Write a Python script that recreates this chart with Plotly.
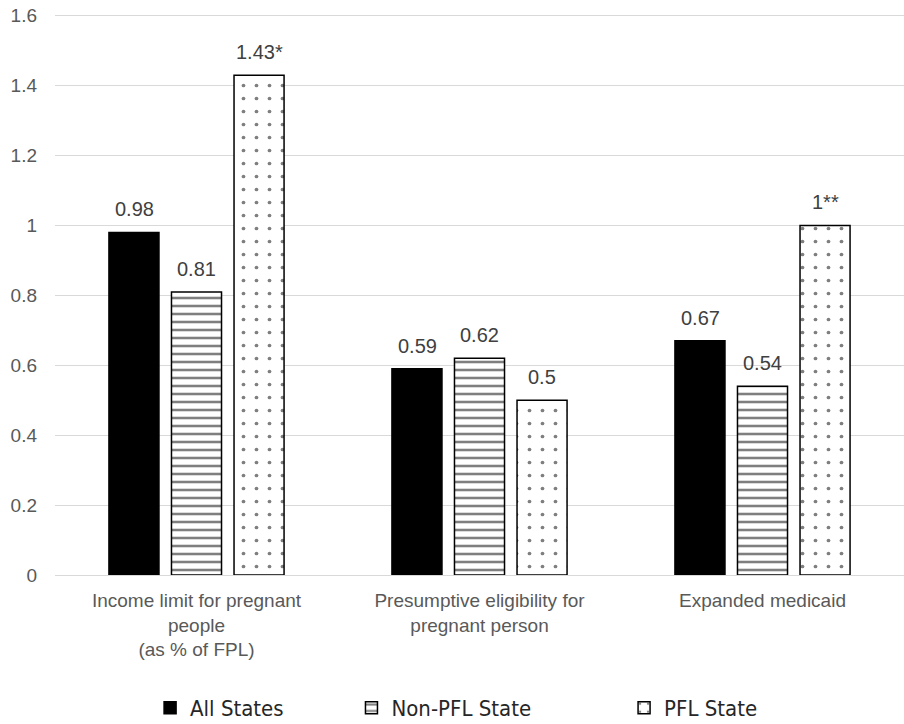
import plotly.graph_objects as go

categories = ["Income limit for pregnant<br>people<br>(as % of FPL)",
              "Presumptive eligibility for<br>pregnant person",
              "Expanded medicaid"]
all_states = [0.98, 0.59, 0.67]
non_pfl = [0.81, 0.62, 0.54]
pfl = [1.43, 0.50, 1.00]
all_labels = ["0.98", "0.59", "0.67"]
non_pfl_labels = ["0.81", "0.62", "0.54"]
pfl_labels = ["1.43*", "0.5", "1**"]
y_ticks = [0, 0.2, 0.4, 0.6, 0.8, 1, 1.2, 1.4, 1.6]
y_ticktext = ["0", "0.2", "0.4", "0.6", "0.8", "1", "1.2", "1.4", "1.6"]

NB = "\u00a0"
fig = go.Figure()
fig.add_trace(go.Bar(
    name="All States" + NB * 10, x=categories, y=all_states,
    marker=dict(color="black", line=dict(color="black", width=1.5)),
))
fig.add_trace(go.Bar(
    name="Non-PFL State" + NB * 14, x=categories, y=non_pfl,
    marker=dict(color="white", line=dict(color="black", width=1.5),
                pattern=dict(shape="-", fgcolor="black", bgcolor="white",
                             size=8, solidity=0.32, fillmode="overlay")),
))
fig.add_trace(go.Bar(
    name="PFL State", x=categories, y=pfl,
    marker=dict(color="white", line=dict(color="black", width=1.5),
                pattern=dict(shape=".", fgcolor="black", bgcolor="white",
                             size=13, solidity=0.065, fillmode="overlay")),
))

# value labels above bars (offset to each bar's slot within the group)
offsets = [-62.5, 0, 62.5]
for series, labels, dx in [(all_states, all_labels, offsets[0]),
                           (non_pfl, non_pfl_labels, offsets[1]),
                           (pfl, pfl_labels, offsets[2])]:
    for cat, val, lab in zip(categories, series, labels):
        fig.add_annotation(x=cat, y=val, text=lab, showarrow=False,
                           xref="x", yref="y", xshift=dx, yshift=10,
                           yanchor="bottom", xanchor="center",
                           font=dict(family="Liberation Sans, Arial", size=20, color="#404040"))

fig.update_layout(
    width=904, height=724,
    margin=dict(l=55, r=0, t=14, b=149, autoexpand=False),
    plot_bgcolor="white", paper_bgcolor="white",
    barmode="group", bargap=0.337, bargroupgap=0.2,
    showlegend=True,
    legend=dict(orientation="h", x=0.112, xanchor="left", y=-0.237, yanchor="middle",
                font=dict(family="DejaVu Sans Condensed, Liberation Sans Narrow, Arial",
                          size=22, color="#262626"),
                traceorder="normal", itemclick=False),
    font=dict(family="Liberation Sans, Arial", size=19, color="#595959"),
    xaxis=dict(showgrid=False, showline=False, ticks="", automargin=False,
               ticklabelstandoff=12,
               tickfont=dict(size=19, color="#595959")),
    yaxis=dict(range=[0, 1.605], tickvals=y_ticks, ticktext=y_ticktext,
               showgrid=True, gridcolor="#d9d9d9", gridwidth=1.2,
               zeroline=True, zerolinecolor="#d9d9d9", zerolinewidth=1.2,
               showline=False, ticks="", ticklabelstandoff=17, automargin=False,
               tickfont=dict(size=19, color="#595959")),
)

fig.write_html("out.html", config={"displayModeBar": False},
               post_script="document.body.style.margin='0';")
